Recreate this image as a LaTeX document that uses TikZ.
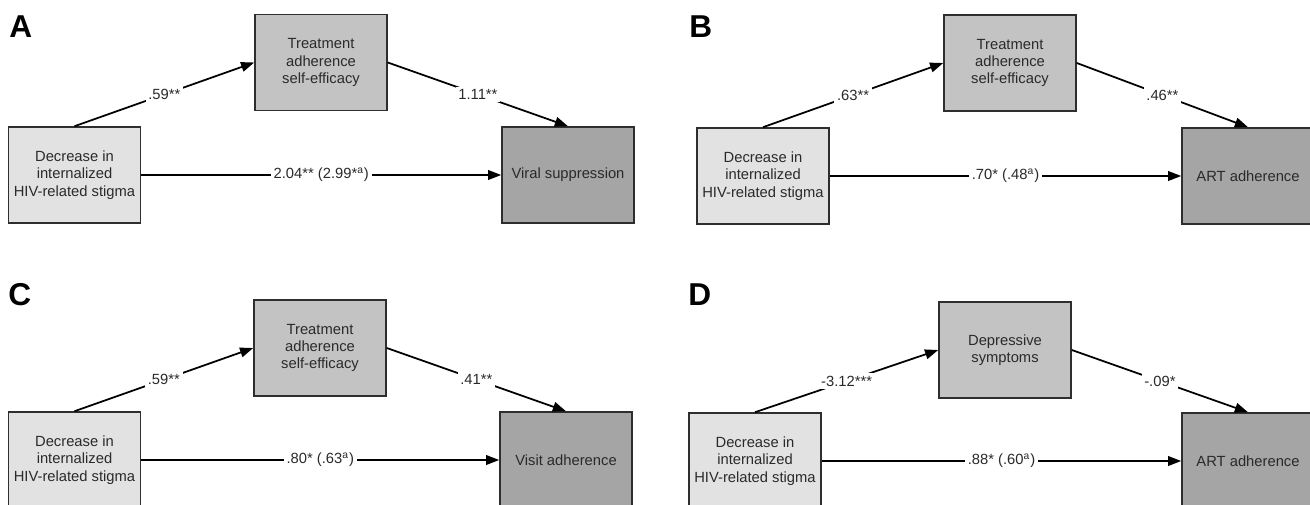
\documentclass[tikz,border=0pt]{standalone}
\usepackage{fontspec}
\setmainfont{Liberation Sans}
\usetikzlibrary{arrows.meta}
\definecolor{boxline}{HTML}{2E2E2E}
\definecolor{boxtext}{HTML}{2A2A2A}
\definecolor{lightgray}{HTML}{E2E2E2}
\definecolor{midgray}{HTML}{C3C3C3}
\definecolor{darkgray}{HTML}{A5A5A5}

\begin{document}
\begin{tikzpicture}[x=0.02cm, y=-0.02cm,
>={Triangle[length=7.5pt,width=5.5pt]}]
    \tikzstyle{var}=[draw=boxline, line width=0.9pt, text=boxtext, align=center, minimum width=2.64cm, minimum height=1.92cm, inner sep=0pt, font=\fontsize{8.4}{9.9}\selectfont]
    \tikzstyle{stigma}=[var, fill=lightgray]
    \tikzstyle{mediator}=[var, fill=midgray]
    \tikzstyle{outcome}=[var, fill=darkgray]
    \tikzstyle{coef}=[fill=white, text=boxtext, inner sep=1.5pt, font=\fontsize{8.4}{9.9}\selectfont]
    \tikzstyle{link}=[->, line width=1pt, draw=black]
    \tikzstyle{panel}=[anchor=base west, inner sep=0pt, font=\fontsize{18}{18}\selectfont\bfseries]

\useasboundingbox (0,0) rectangle (1310,504);

% panel A
\node[panel] (lA) at (9,37) {A};
\node[stigma] (xA) at (74.5,175) {Decrease in\\internalized\\HIV-related stigma};
\node[mediator] (mA) at (321,62.5) {Treatment\\adherence\\self-efficacy};
\node[outcome] (yA) at (568,175) {Viral suppression};
\draw[link] (xA.north) -- node[coef] {.59**} (mA.west);
\draw[link] (mA.east) -- node[coef] {1.11**} (yA.north);
\draw[link] (xA.east) -- node[coef] {2.04** (2.99*\textsuperscript{a})} (yA.west);

% panel B
\node[panel] (lB) at (689,37) {B};
\node[stigma] (xB) at (763,176) {Decrease in\\internalized\\HIV-related stigma};
\node[mediator] (mB) at (1010,63) {Treatment\\adherence\\self-efficacy};
\node[outcome] (yB) at (1248,176) {ART adherence};
\draw[link] (xB.north) -- node[coef] {.63**} (mB.west);
\draw[link] (mB.east) -- node[coef] {.46**} (yB.north);
\draw[link] (xB.east) -- node[coef] {.70* (.48\textsuperscript{a})} (yB.west);

% panel C
\node[panel] (lC) at (8,305) {C};
\node[stigma] (xC) at (74.5,460) {Decrease in\\internalized\\HIV-related stigma};
\node[mediator] (mC) at (320,348) {Treatment\\adherence\\self-efficacy};
\node[outcome] (yC) at (566,460) {Visit adherence};
\draw[link] (xC.north) -- node[coef] {.59**} (mC.west);
\draw[link] (mC.east) -- node[coef] {.41**} (yC.north);
\draw[link] (xC.east) -- node[coef] {.80* (.63\textsuperscript{a})} (yC.west);

% panel D
\node[panel] (lD) at (688,305) {D};
\node[stigma] (xD) at (755,461) {Decrease in\\internalized\\HIV-related stigma};
\node[mediator] (mD) at (1005,350) {Depressive\\symptoms};
\node[outcome] (yD) at (1248,461) {ART adherence};
\draw[link] (xD.north) -- node[coef] {-3.12***} (mD.west);
\draw[link] (mD.east) -- node[coef] {-.09*} (yD.north);
\draw[link] (xD.east) -- node[coef] {.88* (.60\textsuperscript{a})} (yD.west);
\end{tikzpicture}
\end{document}
